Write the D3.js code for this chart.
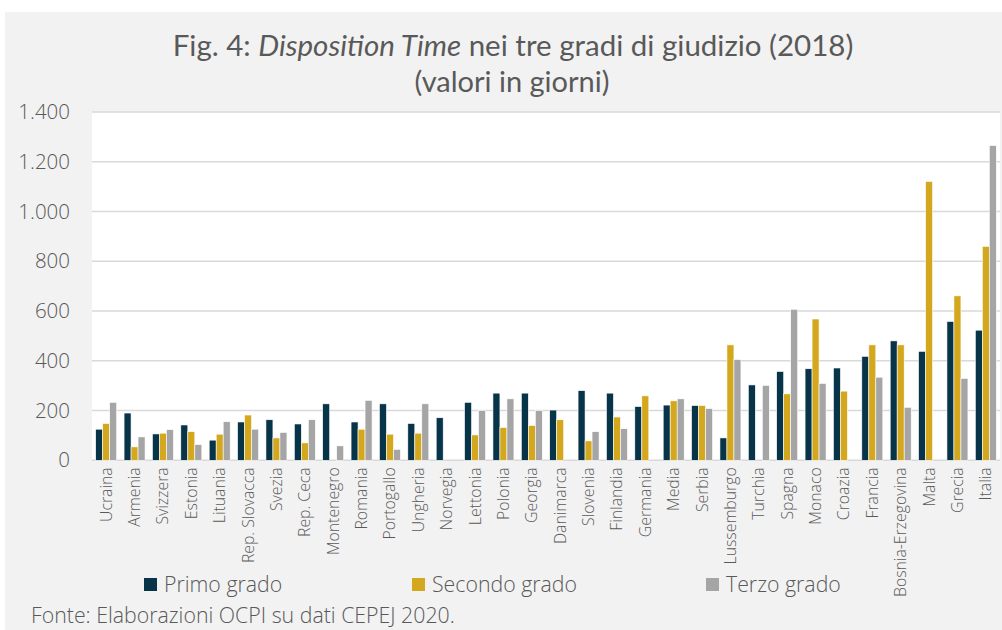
<!DOCTYPE html>
<html>
<head>
<meta charset="utf-8">
<script src="https://cdn.jsdelivr.net/npm/d3@7/dist/d3.min.js"></script>
<style>
  body { margin: 0; background: #fff; }
  svg { display: block; font-family: "Open Sans", Lato, sans-serif; font-weight: 300; }
</style>
</head>
<body>
<svg id="chart" width="1002" height="630"></svg>
<script>
// data (giorni)
const countries = ['Ucraina', 'Armenia', 'Svizzera', 'Estonia', 'Lituania', 'Rep. Slovacca', 'Svezia', 'Rep. Ceca',
  'Montenegro', 'Romania', 'Portogallo', 'Ungheria', 'Norvegia', 'Lettonia', 'Polonia', 'Georgia', 'Danimarca',
  'Slovenia', 'Finlandia', 'Germania', 'Media', 'Serbia', 'Lussemburgo', 'Turchia', 'Spagna', 'Monaco', 'Croazia',
  'Francia', 'Bosnia-Erzegovina', 'Malta', 'Grecia', 'Italia'];
const primo = [125, 190, 106, 142, 81, 154, 163, 146, 227, 154, 227, 148, 171, 233, 270, 270, 202,
  280, 270, 216, 222, 220, 90, 303, 357, 368, 371, 418, 480, 438, 558, 523];
const secondo = [148, 54, 109, 115, 105, 182, 90, 70, null, 125, 105, 109, null, 102, 132, 140, 163,
  78, 174, 259, 239, 220, 464, null, 267, 568, 278, 464, 464, 1121, 661, 860];
const terzo = [233, 94, 123, 63, 155, 125, 112, 163, 58, 241, 44, 227, null, 200, 247, 200, null,
  115, 127, null, 247, 208, 405, 301, 607, 309, null, 334, 213, null, 329, 1265];
const seriesNames = ['Primo grado', 'Secondo grado', 'Terzo grado'];
const seriesColors = ['#08344a', '#d4a81e', '#a5a5a5'];
const yTicks = [0, 200, 400, 600, 800, 1000, 1200, 1400];

const svg = d3.select('#chart');
const W = 1002, H = 630;
const margin = { top: 112, right: 2, bottom: 170, left: 92 };
const plotW = W - margin.left - margin.right;
const plotH = H - margin.top - margin.bottom + 0.3;
const textColor = '#595959';

// panel background
svg.append('rect').attr('x', 5).attr('y', 12).attr('width', W - 5).attr('height', H - 12).attr('fill', '#f2f2f2');
svg.append('rect').attr('x', margin.left).attr('y', margin.top).attr('width', plotW).attr('height', plotH).attr('fill', '#fff');

const x = d3.scaleBand().domain(countries).range([margin.left, margin.left + plotW]).paddingInner(0.26).paddingOuter(0.13);
const xs = d3.scaleBand().domain(seriesNames).range([0, x.bandwidth()]);
const y = d3.scaleLinear().domain([0, 1400]).range([margin.top + plotH, margin.top]);

// gridlines
svg.append('g').selectAll('line').data(yTicks).join('line')
  .attr('x1', margin.left).attr('x2', margin.left + plotW)
  .attr('y1', d => y(d)).attr('y2', d => y(d))
  .attr('stroke', '#d9d9d9').attr('stroke-width', 1.5);

// y axis labels
const yAxis = d3.axisLeft(y).tickValues(yTicks).tickSize(0).tickPadding(0)
  .tickFormat(d => d3.format(',')(d).replace(/,/g, '.'));
svg.append('g').attr('transform', `translate(${margin.left - 22},0)`).call(yAxis)
  .call(g => g.select('.domain').remove())
  .selectAll('text').attr('font-size', 20.5).attr('fill', textColor)
  .attr('font-family', '"Open Sans", sans-serif').attr('font-weight', 300);

// bars
const rows = countries.map((c, i) => ({ c, vals: [primo[i], secondo[i], terzo[i]] }));
const groups = svg.append('g').selectAll('g').data(rows).join('g')
  .attr('transform', d => `translate(${x(d.c)},0)`);
groups.selectAll('rect')
  .data(d => d.vals.map((v, k) => ({ v, k })).filter(e => e.v != null))
  .join('rect')
  .attr('x', e => xs(seriesNames[e.k]))
  .attr('width', xs.bandwidth())
  .attr('y', e => y(e.v))
  .attr('height', e => y(0) - y(e.v))
  .attr('fill', e => seriesColors[e.k])
  .attr('stroke', '#fff').attr('stroke-width', 0.6);

// x axis labels
const xAxis = d3.axisBottom(x).tickSize(0).tickPadding(0);
svg.append('g').attr('transform', `translate(0,${y(0) + 7})`).call(xAxis)
  .call(g => g.select('.domain').remove())
  .selectAll('text')
  .attr('font-size', 15.8).attr('fill', textColor)
  .attr('font-family', '"Open Sans", sans-serif').attr('font-weight', 300)
  .attr('text-anchor', 'end').attr('dy', '0.35em').attr('dx', 0)
  .attr('transform', 'rotate(-90)').attr('y', 0).attr('x', 0);

// title
const title = svg.append('text').attr('x', 513).attr('y', 56).attr('text-anchor', 'middle')
  .attr('font-family', 'Lato, sans-serif').attr('font-weight', 400)
  .attr('font-size', 29.5).attr('fill', textColor);
title.append('tspan').text('Fig. 4: ');
title.append('tspan').attr('font-style', 'italic').text('Disposition Time');
title.append('tspan').text(' nei tre gradi di giudizio (2018)');
svg.append('text').attr('x', 512).attr('y', 92).attr('text-anchor', 'middle')
  .attr('font-family', 'Lato, sans-serif').attr('font-weight', 400)
  .attr('font-size', 29).attr('fill', textColor).text('(valori in giorni)');

// legend
const legendX = [144, 412, 706];
const legend = svg.append('g').selectAll('g').data(seriesNames).join('g')
  .attr('transform', (d, i) => `translate(${legendX[i]},578)`);
legend.append('rect').attr('width', 13).attr('height', 13).attr('fill', (d, i) => seriesColors[i]);
legend.append('text').attr('x', 20).attr('y', 14).attr('font-size', 21.3).attr('fill', textColor).text(d => d);

// source
svg.append('text').attr('x', 31).attr('y', 623).attr('font-size', 21.3).attr('fill', textColor)
  .text('Fonte: Elaborazioni OCPI su dati CEPEJ 2020.');
</script>
</body>
</html>
